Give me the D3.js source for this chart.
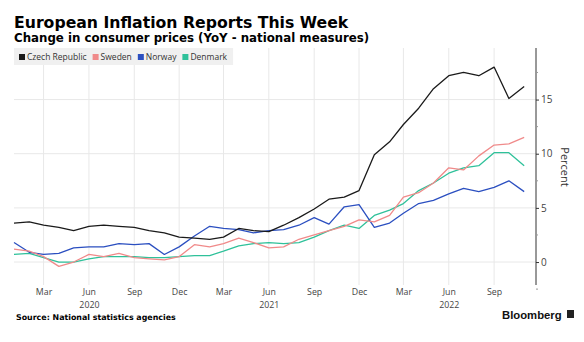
<!DOCTYPE html>
<html>
<head>
<meta charset="utf-8">
<script src="https://cdn.jsdelivr.net/npm/d3@7"></script>
<style>
  body { margin: 0; background: #fff; }
  svg { display: block; }
  .title { font-family: "DejaVu Sans", sans-serif; font-weight: bold; fill: #000; }
  .axis text { font-family: "Open Sans", sans-serif; fill: #444; }
  .grid line { stroke: #e8e8e8; stroke-width: 1; }
</style>
</head>
<body>
<script>
// monthly YoY CPI, Jan 2020 - Nov 2022
var startMonth = "2020-01-01";
var czech   = [3.6, 3.7, 3.4, 3.2, 2.9, 3.3, 3.4, 3.3, 3.2, 2.9, 2.7, 2.3,
               2.2, 2.1, 2.3, 3.1, 2.9, 2.8, 3.4, 4.1, 4.9, 5.8, 6.0, 6.6,
               9.9, 11.1, 12.7, 14.2, 16.0, 17.2, 17.5, 17.2, 18.0, 15.1, 16.2];
var sweden  = [1.2, 1.0, 0.5, -0.4, 0.0, 0.7, 0.5, 0.8, 0.4, 0.3, 0.2, 0.5,
               1.6, 1.4, 1.7, 2.2, 1.8, 1.3, 1.4, 2.1, 2.5, 2.9, 3.3, 3.9,
               3.7, 4.3, 6.0, 6.4, 7.3, 8.7, 8.5, 9.8, 10.8, 10.9, 11.5];
var norway  = [1.8, 0.9, 0.7, 0.8, 1.3, 1.4, 1.4, 1.7, 1.6, 1.7, 0.7, 1.4,
               2.4, 3.3, 3.1, 3.0, 2.7, 2.9, 3.0, 3.4, 4.1, 3.5, 5.1, 5.3,
               3.2, 3.6, 4.5, 5.4, 5.7, 6.3, 6.8, 6.5, 6.9, 7.5, 6.5];
var denmark = [0.7, 0.8, 0.4, 0.0, 0.0, 0.3, 0.5, 0.5, 0.5, 0.4, 0.4, 0.5,
               0.6, 0.6, 1.0, 1.5, 1.7, 1.8, 1.7, 1.8, 2.3, 2.9, 3.4, 3.1,
               4.3, 4.8, 5.4, 6.6, 7.3, 8.2, 8.7, 8.9, 10.1, 10.1, 8.9];

var seriesNames  = ["Czech Republic", "Sweden", "Norway", "Denmark"];
var seriesColors = ["#1a1a1a", "#f08a8a", "#2b4fc0", "#2fc19a"];
var yTicks = [0, 5, 10, 15];
var yMinorTicks = [-2.5, 2.5, 7.5, 12.5, 17.5];
var xTickMonths = [2, 5, 8, 11];          // Mar, Jun, Sep, Dec
var yearLabelMonth = 5;                   // year printed under Jun

var W = 584, H = 342;
var plot = {left: 14, right: 536, top: 48, bottom: 285};

var svg = d3.select("body").append("svg")
    .attr("width", W).attr("height", H);

var parse = d3.timeParse("%Y-%m-%d");
var t0 = parse(startMonth);
var dates = d3.range(czech.length).map(function(i) { return d3.timeMonth.offset(t0, i); });

var x = d3.scaleTime()
    .domain([t0, parse("2022-11-25")])
    .range([plot.left, plot.right]);
var y = d3.scaleLinear()
    .domain([-2.12, 19.76])
    .range([plot.bottom, plot.top]);

var tickDates = d3.timeMonth.range(t0, parse("2022-11-25"))
    .filter(function(d) { return xTickMonths.indexOf(d.getMonth()) >= 0; });

// grid
var grid = svg.append("g").attr("class", "grid");
grid.selectAll(".h").data(yTicks).enter().append("line")
    .attr("x1", plot.left).attr("x2", plot.right)
    .attr("y1", function(d) { return y(d); }).attr("y2", function(d) { return y(d); });
grid.selectAll(".v").data(tickDates).enter().append("line")
    .attr("x1", function(d) { return x(d); }).attr("x2", function(d) { return x(d); })
    .attr("y1", plot.top).attr("y2", plot.bottom);

// lines
var line = d3.line()
    .x(function(d, i) { return x(dates[i]); })
    .y(function(d) { return y(d); });

var allSeries = [czech, sweden, norway, denmark];
// draw back to front so the black line sits on top
[3, 2, 1, 0].forEach(function(k) {
  svg.append("path")
      .datum(allSeries[k])
      .attr("fill", "none")
      .attr("stroke", seriesColors[k])
      .attr("stroke-width", 1.3)
      .attr("stroke-linejoin", "round")
      .attr("d", line);
});

// right axis
var yAxis = svg.append("g")
    .attr("class", "axis")
    .attr("transform", "translate(" + plot.right + ",0)")
    .call(d3.axisRight(y).tickValues(yTicks).tickSize(3).tickPadding(2));
yAxis.select(".domain").attr("stroke", "#333").attr("d", "M0," + plot.top + "V" + plot.bottom);
yAxis.selectAll(".tick line").attr("stroke", "#333");
yAxis.selectAll("text").style("font-size", "10px");
yAxis.selectAll(".minor").data(yMinorTicks).enter().append("line")
    .attr("class", "minor")
    .attr("x1", 0).attr("x2", 2)
    .attr("y1", function(d) { return y(d); }).attr("y2", function(d) { return y(d); })
    .attr("stroke", "#999");

svg.append("text")
    .attr("transform", "translate(561,167) rotate(90)")
    .attr("text-anchor", "middle")
    .style("font-family", "Open Sans, sans-serif")
    .style("font-size", "11px")
    .style("fill", "#333")
    .text("Percent");

// bottom axis labels
var xAxis = svg.append("g")
    .attr("class", "axis")
    .attr("transform", "translate(0," + plot.bottom + ")")
    .call(d3.axisBottom(x).tickValues(tickDates).tickSize(0).tickPadding(4)
      .tickFormat(d3.timeFormat("%b")));
xAxis.select(".domain").remove();
xAxis.selectAll("text").style("font-size", "8.8px");
xAxis.selectAll(".tick").filter(function(d) { return d.getMonth() === yearLabelMonth; })
  .append("text")
    .attr("y", 17).attr("dy", "0.71em")
    .style("font-size", "8.8px")
    .text(function(d) { return d.getFullYear(); });

// legend, laid out from the text widths
var legend = svg.append("g");
var legendBg = legend.append("rect")
    .attr("x", 14).attr("y", 48).attr("height", 17)
    .attr("fill", "#f0f0f0");
var lx = 19;
seriesNames.forEach(function(name, i) {
  legend.append("rect")
      .attr("x", lx).attr("y", 54).attr("width", 6).attr("height", 6)
      .attr("fill", seriesColors[i]);
  var t = legend.append("text")
      .attr("x", lx + 8).attr("y", 60)
      .style("font-family", "Open Sans, sans-serif")
      .style("font-size", "8.5px")
      .style("fill", "#333")
      .text(name);
  lx += 8 + t.node().getComputedTextLength() + 6;
});
legendBg.attr("width", lx - 14);

// titles
svg.append("text").attr("class", "title")
    .attr("x", 14).attr("y", 28)
    .style("font-size", "15.7px")
    .text("European Inflation Reports This Week");
svg.append("text").attr("class", "title")
    .attr("x", 14).attr("y", 42)
    .style("font-size", "11.8px")
    .text("Change in consumer prices (YoY - national measures)");
svg.append("text").attr("class", "title")
    .attr("x", 16).attr("y", 320)
    .style("font-size", "7.9px")
    .text("Source: National statistics agencies");

// Bloomberg mark
svg.append("text")
    .attr("x", 502).attr("y", 319)
    .style("font-family", "Liberation Sans, sans-serif")
    .style("font-weight", "bold")
    .style("font-size", "11.3px")
    .style("fill", "#111")
    .text("Bloomberg");
svg.append("rect")
    .attr("x", 567).attr("y", 310).attr("width", 7).attr("height", 8)
    .attr("fill", "#222");
</script>
</body>
</html>
